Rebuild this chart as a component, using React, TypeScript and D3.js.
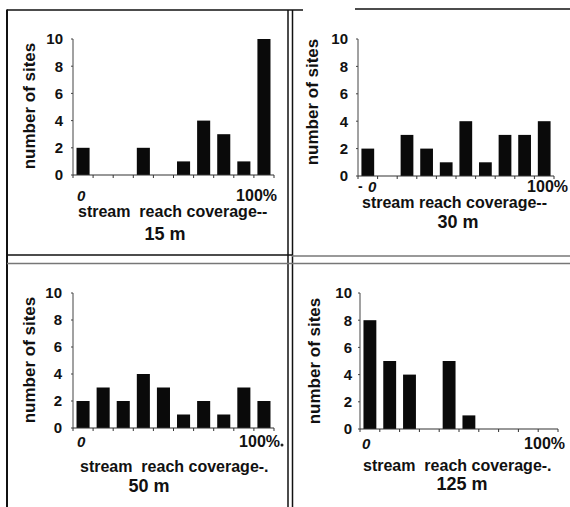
import React from "react";
import * as d3 from "d3";

// ---------- data ----------
const bins = ["0-10%", "10-20%", "20-30%", "30-40%", "40-50%", "50-60%", "60-70%", "70-80%", "80-90%", "90-100%"];
const sites15m = [2, 0, 0, 2, 0, 1, 4, 3, 1, 10];
const sites30m = [2, 0, 3, 2, 1, 4, 1, 3, 3, 4];
const sites50m = [2, 3, 2, 4, 3, 1, 2, 1, 3, 2];
const sites125m = [8, 5, 4, 0, 5, 1, 0, 0, 0, 0];
const yTicks = [0, 2, 4, 6, 8, 10];
const xStartLabel = "0";
const xEndLabel = "100%";
const yLabel = "number of sites";
const xLabels = ["stream  reach coverage--", "stream reach coverage--", "stream  reach coverage-.", "stream  reach coverage-."];
const titles = ["15 m", "30 m", "50 m", "125 m"];

const FONT = "'Liberation Sans', Arial, Helvetica, sans-serif";

type Layout = {
  x0: number; x1: number; yTop: number; y0: number;
  tickRight: number;
  zeroX: number; zeroBase: number; endRight: number;
  labX: number; labBase: number;
  titleX: number; titleBase: number;
  yLabX: number; yLabY: number;
  dash?: boolean;
};

const layouts: Layout[] = [
  { x0: 73, x1: 274, yTop: 39, y0: 175, tickRight: 63, zeroX: 77, zeroBase: 201, endRight: 277, labX: 78, labBase: 217, titleX: 165, titleBase: 240, yLabX: 35, yLabY: 106 },
  { x0: 358, x1: 554, yTop: 39, y0: 176, tickRight: 348, zeroX: 368, zeroBase: 192, endRight: 568, labX: 362, labBase: 208, titleX: 458, titleBase: 228, yLabX: 318, yLabY: 102, dash: true },
  { x0: 73, x1: 274, yTop: 293, y0: 428, tickRight: 62, zeroX: 77, zeroBase: 447, endRight: 280, labX: 80, labBase: 472, titleX: 149, titleBase: 492, yLabX: 35, yLabY: 360 },
  { x0: 360, x1: 558, yTop: 293, y0: 429, tickRight: 352, zeroX: 362, zeroBase: 449, endRight: 565, labX: 363, labBase: 471, titleX: 462, titleBase: 490, yLabX: 320, yLabY: 361 },
];

const series = [sites15m, sites30m, sites50m, sites125m];

function Panel({ values, L, xLabel, title }: { values: number[]; L: Layout; xLabel: string; title: string }) {
  const x = d3.scaleBand<string>().domain(bins).range([L.x0, L.x1]).paddingInner(0.35).paddingOuter(0.175);
  const y = d3.scaleLinear().domain([0, 10]).range([L.y0, L.yTop]);
  const step = (L.x1 - L.x0) / bins.length;
  const xTickPos = d3.range(bins.length + 1).map((i) => L.x0 + i * step);
  return (
    <g>
      {values.map((v, i) =>
        v > 0 ? (
          <rect key={i} x={x(bins[i])} y={y(v)} width={x.bandwidth()} height={y(0) - y(v)} fill="#0a0a0a" />
        ) : null
      )}
      <line x1={L.x0} x2={L.x0} y1={y(10)} y2={y(0)} stroke="#444" strokeWidth={1} />
      <line x1={L.x0} x2={L.x1} y1={y(0)} y2={y(0)} stroke="#333" strokeWidth={1.2} />
      {yTicks.map((t) => (
        <g key={t}>
          <line x1={L.x0 - 2} x2={L.x0} y1={y(t)} y2={y(t)} stroke="#444" />
          <text x={L.tickRight} y={y(t)} dy="0.36em" textAnchor="end" fontFamily={FONT} fontWeight="bold" fontSize={15} fill="#111">
            {t}
          </text>
        </g>
      ))}
      {xTickPos.map((p, i) => (
        <line key={i} x1={p} x2={p} y1={y(0)} y2={y(0) + 3} stroke="#333" />
      ))}
      {L.dash ? (
        <text x={L.zeroX - 10} y={L.zeroBase - 1} fontFamily={FONT} fontWeight="bold" fontSize={14} fill="#111">-</text>
      ) : null}
      <text x={L.zeroX} y={L.zeroBase} fontFamily={FONT} fontWeight="bold" fontStyle="italic" fontSize={15} fill="#111">
        {xStartLabel}
      </text>
      <text x={L.endRight} y={L.zeroBase} textAnchor="end" fontFamily={FONT} fontWeight="bold" fontSize={16} fill="#111">
        {xEndLabel}
      </text>
      <text x={L.labX} y={L.labBase} fontFamily={FONT} fontWeight="bold" fontSize={16} fill="#111" style={{ whiteSpace: "pre" }}>
        {xLabel}
      </text>
      <text x={L.titleX} y={L.titleBase} textAnchor="middle" fontFamily={FONT} fontWeight="bold" fontSize={18} fill="#111">
        {title}
      </text>
      <text
        transform={`translate(${L.yLabX},${L.yLabY}) rotate(-90)`}
        textAnchor="middle"
        fontFamily={FONT}
        fontWeight="bold"
        fontSize={17}
        fill="#111"
      >
        {yLabel}
      </text>
    </g>
  );
}

export default function App() {
  return (
    <svg width={570} height={507} style={{ position: "absolute", left: 0, top: 0, background: "#fff" }}>
      <rect x={0} y={0} width={570} height={507} fill="#fff" />
      {/* frame */}
      <line x1={7} x2={303} y1={10} y2={10} stroke="#111" strokeWidth={1.5} />
      <line x1={355} x2={570} y1={9} y2={9} stroke="#111" strokeWidth={1.5} />
      <line x1={7} x2={7} y1={9.5} y2={507} stroke="#111" strokeWidth={2} />
      <line x1={288} x2={288} y1={10} y2={507} stroke="#111" strokeWidth={1.5} />
      <line x1={292.5} x2={292.5} y1={10} y2={507} stroke="#111" strokeWidth={1.5} />
      <line x1={7} x2={292} y1={255} y2={255} stroke="#111" strokeWidth={1.5} />
      <line x1={292} x2={570} y1={256} y2={256} stroke="#777" strokeWidth={1.5} />
      <line x1={7} x2={570} y1={263.5} y2={263.5} stroke="#777" strokeWidth={1.5} />
      <circle cx={282} cy={445} r={1.5} fill="#222" />
      {series.map((vals, i) => (
        <Panel key={i} values={vals} L={layouts[i]} xLabel={xLabels[i]} title={titles[i]} />
      ))}
    </svg>
  );
}
